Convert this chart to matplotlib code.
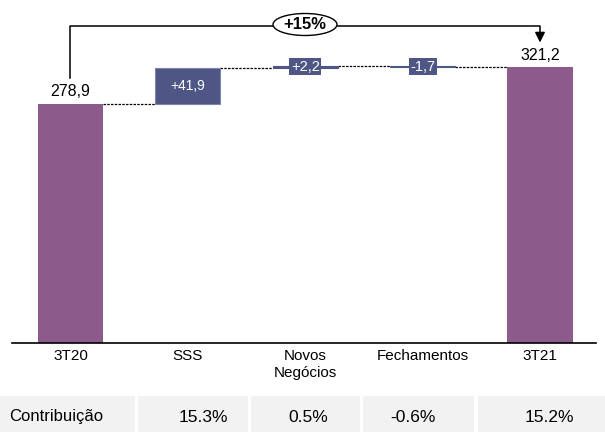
import matplotlib
matplotlib.use("Agg")
import matplotlib.pyplot as plt
from matplotlib.patches import Rectangle, Ellipse

plt.rcParams['font.family'] = ['Liberation Sans', 'DejaVu Sans']

# ---- data ----
categories = ['3T20', 'SSS', 'Novos\nNegócios', 'Fechamentos', '3T21']
values = [278.9, 41.9, 2.2, -1.7, 321.2]
value_labels = ['278,9', '+41,9', '+2,2', '-1,7', '321,2']
growth_label = '+15%'
contrib_title = 'Contribuição'
contrib_values = ['15.3%', '0.5%', '-0.6%', '15.2%']

# ---- style ----
PURPLE = '#8c5b8c'
BLUE = '#4e5686'
GRAY = '#f2f2f2'
W = 0.556

fig = plt.figure(figsize=(6.05, 4.32), dpi=100)
ax = fig.add_axes([0, 0, 1, 1])

# pixel helpers (layout only)
X0, XS = 70.4, 117.4
Y0, YS = 342.7, 0.857
def px(p):
    return (p - X0) / XS
def py(p):
    return (Y0 - p) / YS

ax.set_xlim(px(0), px(605))
ax.set_ylim(py(432), py(0))
ax.axis('off')

# ---- bars ----
n = len(values)
running = 0.0
tops = []
for i, v in enumerate(values):
    if i == 0 or i == n - 1:
        ax.bar(i, v, width=W, bottom=0, color=PURPLE, zorder=2)
        running = v if i == 0 else running
        tops.append(v)
    else:
        bottom = min(running, running + v)
        ax.bar(i, abs(v), width=W, bottom=bottom, color=BLUE,
               edgecolor='#7f86aa' if abs(v) > 10 else BLUE, linewidth=0.8, zorder=2)
        running += v
        tops.append(running)

# connectors
for i in range(n - 1):
    ax.plot([i + W / 2, i + 1 - W / 2], [tops[i], tops[i]], color='black',
            linestyle=(0, (2, 1)), linewidth=0.9, zorder=1)

# value labels
ax.text(0, values[0] + 12.5 / YS, value_labels[0], ha='center', va='center', fontsize=11.5)
ax.text(n - 1, values[-1] + 12 / YS, value_labels[-1], ha='center', va='center', fontsize=11.5)
# SSS label inside box
ax.text(1, tops[0] + values[1] / 2, value_labels[1], ha='center', va='center',
        fontsize=10, color='white', zorder=3)
# small deltas: label boxes
for i in (2, 3):
    lo = min(tops[i - 1], tops[i])
    mid = lo + abs(values[i]) / 2
    ax.text(i, mid, value_labels[i], ha='center', va='center', fontsize=10.5, color='white',
            zorder=4, bbox=dict(boxstyle='square,pad=0.1', facecolor=BLUE, edgecolor='none'))

# axis line
ax.plot([px(12), px(596)], [0, 0], color='black', linewidth=1.2, zorder=3)

# category labels
for i, c in enumerate(categories):
    ax.text(i, py(349), c, ha='center', va='top', fontsize=11, linespacing=1.3)

# ---- growth bracket ----
yb = py(25.7)
ax.plot([0, 0, n - 1, n - 1], [py(78), yb, yb, py(36)], color='black', linewidth=1.1, zorder=3)
ax.annotate('', xy=(n - 1, py(42.5)), xytext=(n - 1, py(34)),
            arrowprops=dict(arrowstyle='-|>,head_width=0.3,head_length=0.6',
                            color='black', linewidth=1.1, shrinkA=0, shrinkB=0))
ell = Ellipse((px(305), py(24.5)), width=64 / XS, height=22 / YS,
              facecolor='white', edgecolor='black', linewidth=1.0, zorder=4)
ax.add_patch(ell)
ax.text(px(305), py(24.5), growth_label, ha='center', va='center', fontsize=12,
        fontweight='bold', zorder=5)

# ---- contribution table ----
cells = [(0, 135), (138, 248), (251, 360), (363, 474), (478, 605)]
for (a, b) in cells:
    ax.add_patch(Rectangle((px(a), py(432)), px(b) - px(a), py(396) - py(432),
                           facecolor=GRAY, edgecolor='none', zorder=1))
ax.text(px(9), py(417), contrib_title, ha='left', va='center', fontsize=12)
text_x = [203, 308, 413, 549]
for xv, t in zip(text_x, contrib_values):
    ax.text(px(xv), py(417), t, ha='center', va='center', fontsize=12.5)

fig.savefig('out.png', dpi=100)
